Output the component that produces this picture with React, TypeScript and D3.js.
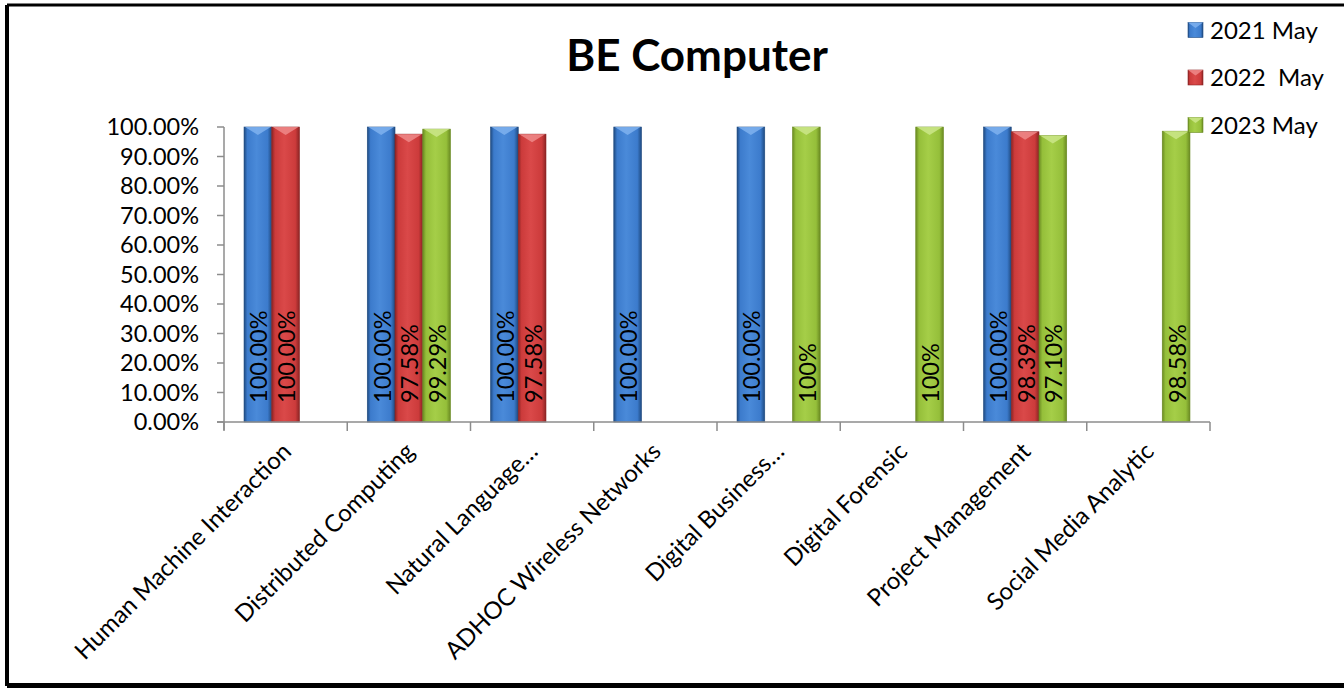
import React from "react";
import * as d3 from "d3";

const categories = [
  "Human Machine Interaction",
  "Distributed Computing",
  "Natural Language…",
  "ADHOC Wireless Networks",
  "Digital Business…",
  "Digital Forensic",
  "Project Management",
  "Social Media Analytic",
];
const seriesNames = ["2021 May", "2022  May", "2023 May"];
const values2021: (number | null)[] = [1, 1, 1, 1, 1, null, 1, null];
const values2022: (number | null)[] = [1, 0.9758, 0.9758, null, null, null, 0.9839, null];
const values2023: (number | null)[] = [null, 0.9929, null, null, 1, 1, 0.971, 0.9858];
const labels2021 = ["100.00%", "100.00%", "100.00%", "100.00%", "100.00%", "", "100.00%", ""];
const labels2022 = ["100.00%", "97.58%", "97.58%", "", "", "", "98.39%", ""];
const labels2023 = ["", "99.29%", "", "", "100%", "100%", "97.10%", "98.58%"];
const yTicks = [0, 0.1, 0.2, 0.3, 0.4, 0.5, 0.6, 0.7, 0.8, 0.9, 1.0];

const W = 1344;
const H = 688;
const FONT = "Lato, 'Open Sans', sans-serif";

const palettes = [
  { id: "gBlue", edge: "#1f4a80", mid: "#3c7bcc", light: "#4a8ad9", top: "#7fb2ee" },
  { id: "gRed", edge: "#8c2424", mid: "#cc3b3b", light: "#da4949", top: "#ee8a8a" },
  { id: "gGreen", edge: "#6a8a22", mid: "#95bf3a", light: "#a5ce48", top: "#cbe68a" },
];

export default function App() {
  const left = 224;
  const right = 1210;
  const top = 127;
  const bottom = 422;

  const x0 = d3.scaleBand<string>().domain(categories).range([left, right]).paddingInner(0.325).paddingOuter(0.1625);
  const x1 = d3.scaleBand<string>().domain(seriesNames).range([0, x0.bandwidth()]).padding(0);
  const y = d3.scaleLinear().domain([0, 1]).range([bottom, top]);
  const step = (right - left) / categories.length;

  const series = [
    { name: seriesNames[0], vals: values2021, labels: labels2021 },
    { name: seriesNames[1], vals: values2022, labels: labels2022 },
    { name: seriesNames[2], vals: values2023, labels: labels2023 },
  ];

  const fmt = d3.format(".2%");

  return (
    <svg width={W} height={H} style={{ position: "fixed", top: 0, left: 0, background: "#fff" }} fontFamily={FONT}>
      <defs>
        {palettes.map((p) => (
          <linearGradient key={p.id} id={p.id} x1="0" x2="1" y1="0" y2="0">
            <stop offset="0" stopColor={p.edge} />
            <stop offset="0.12" stopColor={p.mid} />
            <stop offset="0.45" stopColor={p.light} />
            <stop offset="0.85" stopColor={p.mid} />
            <stop offset="1" stopColor={p.edge} />
          </linearGradient>
        ))}
      </defs>
      <rect x={0} y={0} width={W} height={H} fill="#fff" />
      {/* frame */}
      <line x1={7} y1={5} x2={W} y2={5} stroke="#000" strokeWidth={3} />
      <line x1={7} y1={5} x2={7} y2={686} stroke="#000" strokeWidth={4} />
      <line x1={7} y1={685.5} x2={W} y2={685.5} stroke="#000" strokeWidth={5} />

      {/* title */}
      <text x={697} y={71} textAnchor="middle" fontSize={44} fontWeight="bold" fill="#000">
        BE Computer
      </text>

      {/* y axis */}
      <line x1={left} y1={top} x2={left} y2={bottom + 8} stroke="#8c8c8c" strokeWidth={1.5} />
      {yTicks.map((t) => (
        <g key={t}>
          <line x1={left - 7} x2={left} y1={y(t)} y2={y(t)} stroke="#8c8c8c" strokeWidth={1.5} />
          <text x={199} y={y(t)} dy="0.35em" textAnchor="end" fontSize={23.5} fill="#000">
            {fmt(t)}
          </text>
        </g>
      ))}

      {/* bars */}
      {series.map((s, si) =>
        categories.map((c, ci) => {
          const v = s.vals[ci];
          if (v == null) return null;
          const bx = (x0(c) as number) + (x1(s.name) as number);
          const bw = x1.bandwidth();
          const by = y(v);
          const bh = y(0) - by;
          const p = palettes[si];
          return (
            <g key={`${si}-${ci}`}>
              <rect x={bx} y={by} width={bw} height={bh} fill={`url(#${p.id})`} stroke={p.edge} strokeWidth={0.6} />
              <polygon points={`${bx + 1},${by} ${bx + bw - 1},${by} ${bx + bw / 2},${by + 8}`} fill={p.top} opacity={0.85} />
              {s.labels[ci] && (
                <text
                  transform={`translate(${bx + bw / 2 + 1},${bottom - 19}) rotate(-90)`}
                  dy="0.36em"
                  textAnchor="start"
                  fontSize={23.5}
                  fill="#000"
                >
                  {s.labels[ci]}
                </text>
              )}
            </g>
          );
        })
      )}

      {/* x axis */}
      <line x1={left - 7} x2={right} y1={bottom} y2={bottom} stroke="#8c8c8c" strokeWidth={1.5} />
      {d3.range(categories.length + 1).map((i) => (
        <line key={i} x1={left + i * step} x2={left + i * step} y1={bottom} y2={bottom + 9} stroke="#8c8c8c" strokeWidth={1.5} />
      ))}
      {categories.map((c) => {
        const cx = (x0(c) as number) + x0.bandwidth() / 2;
        return (
          <text
            key={c}
            transform={`translate(${cx + 7},${bottom + 31}) rotate(-45)`}
            textAnchor="end"
            fontSize={24}
            fill="#000"
          >
            {c}
          </text>
        );
      })}

      {/* legend */}
      {seriesNames.map((n, i) => {
        const ly = 30 + i * 47.5;
        const p = palettes[i];
        return (
          <g key={n}>
            <rect x={1188} y={ly - 7.5} width={15} height={15} fill={`url(#${p.id})`} stroke={p.edge} strokeWidth={0.6} />
            <polygon points={`${1188},${ly - 7.5} ${1203},${ly - 7.5} ${1195.5},${ly - 2}`} fill={p.top} opacity={0.85} />
            <text x={1210} y={ly} dy="0.36em" fontSize={24} fill="#000" style={{ whiteSpace: "pre" }}>
              {n}
            </text>
          </g>
        );
      })}
    </svg>
  );
}
